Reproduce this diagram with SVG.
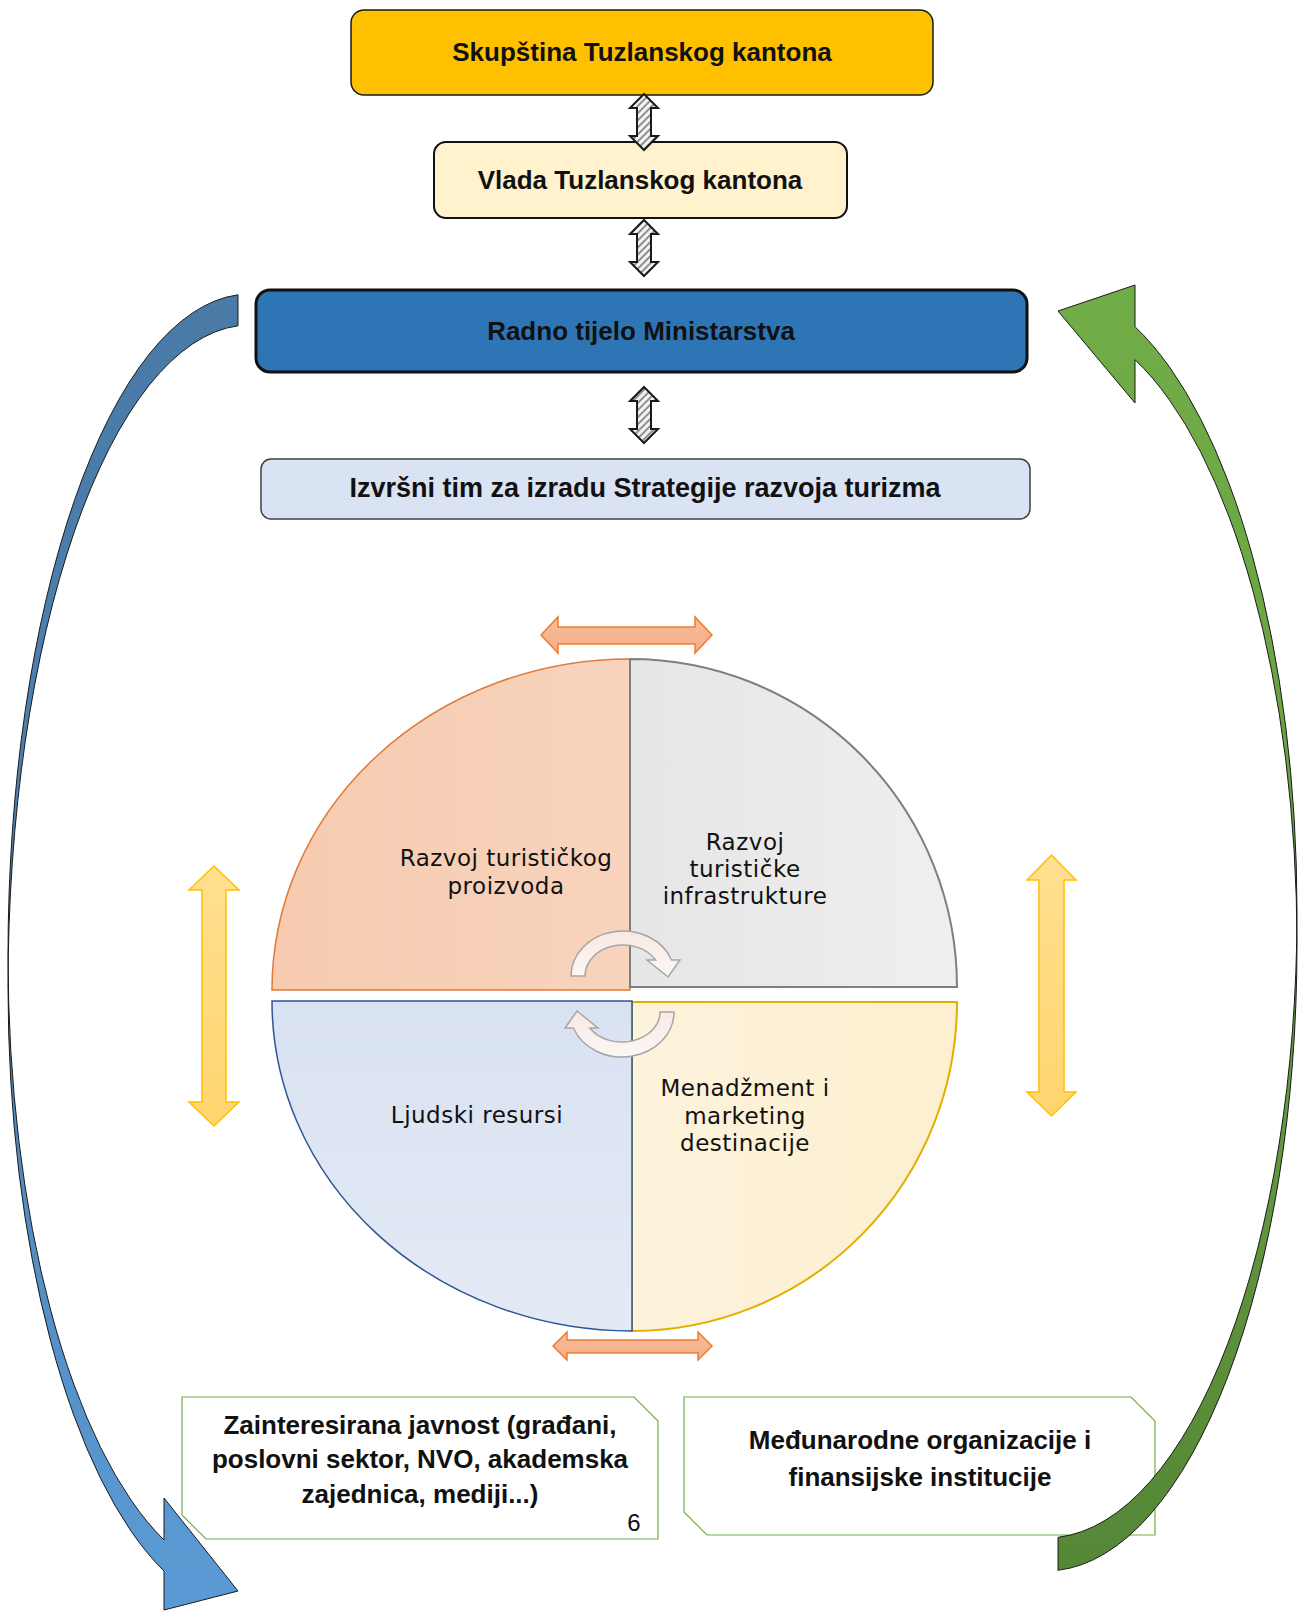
<svg xmlns="http://www.w3.org/2000/svg" width="1308" height="1611" viewBox="0 0 1308 1611">
<defs>
<style>
.bt{font-family:"Liberation Sans",Arial,sans-serif;font-weight:bold;font-size:26px;fill:#111;text-anchor:middle}
.ct{font-family:"DejaVu Sans",Verdana,sans-serif;font-size:23px;letter-spacing:0.5px;fill:#111;text-anchor:middle}
.hatch{fill:url(#hatch);stroke:#1a1a1a;stroke-width:2;stroke-linejoin:miter}
.oarr{fill:url(#gOrange);stroke:#ED7D31;stroke-width:1.5}
.yarr{fill:url(#gYellow);stroke:#FFC000;stroke-width:1.5}
.cyc{fill:url(#gCyc);stroke:#A6A6A6;stroke-width:1.5}
.snip{fill:#fff;stroke:#70AD47;stroke-width:1.2}
</style>
<pattern id="hatch" width="5" height="5" patternUnits="userSpaceOnUse" patternTransform="rotate(45)">
<rect width="5" height="5" fill="#f4f4f4"/>
<line x1="1" y1="0" x2="1" y2="5" stroke="#8f8f8f" stroke-width="2"/>
</pattern>
<linearGradient id="gBlue" x1="0" y1="0" x2="0" y2="1">
<stop offset="0" stop-color="#4A7AA6"/>
<stop offset="0.5" stop-color="#4D83B6"/>
<stop offset="1" stop-color="#5B9BD5"/>
</linearGradient>
<linearGradient id="gGreen" x1="0" y1="0" x2="0" y2="1">
<stop offset="0" stop-color="#70AD47"/>
<stop offset="0.5" stop-color="#67A040"/>
<stop offset="1" stop-color="#558737"/>
</linearGradient>
<linearGradient id="gOrange" x1="0" y1="0" x2="0" y2="1">
<stop offset="0" stop-color="#F7BC9A"/>
<stop offset="1" stop-color="#F4AD87"/>
</linearGradient>
<linearGradient id="gYellow" x1="0" y1="0" x2="0" y2="1">
<stop offset="0" stop-color="#FFE08F"/>
<stop offset="1" stop-color="#FFD570"/>
</linearGradient>
<linearGradient id="gCyc" x1="0" y1="0" x2="0" y2="1">
<stop offset="0" stop-color="#F8E8E3"/>
<stop offset="1" stop-color="#FDF7F5"/>
</linearGradient>
<linearGradient id="gTL" x1="0" y1="0" x2="1" y2="0">
<stop offset="0" stop-color="#F6CBB0"/>
<stop offset="1" stop-color="#F8D3BD"/>
</linearGradient>
<linearGradient id="gTR" x1="0" y1="0" x2="1" y2="0">
<stop offset="0" stop-color="#E6E6E6"/>
<stop offset="1" stop-color="#EFEFEF"/>
</linearGradient>
<linearGradient id="gBL" x1="0" y1="0" x2="0" y2="1">
<stop offset="0" stop-color="#D9E2F2"/>
<stop offset="1" stop-color="#E4EAF5"/>
</linearGradient>
<linearGradient id="gBR" x1="0" y1="0" x2="1" y2="0">
<stop offset="0" stop-color="#FCF3DC"/>
<stop offset="1" stop-color="#FDEFCF"/>
</linearGradient>
</defs>
<rect width="1308" height="1611" fill="#ffffff"/>

<g id="skupstina">
<rect x="351" y="10" width="582" height="85" rx="13" fill="#FFC000" stroke="#1a1a1a" stroke-width="1.5"/>
<text class="bt" x="642" y="61">Skupština Tuzlanskog kantona</text>
</g>
<g id="vlada">
<rect x="434" y="142" width="413" height="76" rx="12" fill="#FFF2CC" stroke="#111" stroke-width="2"/>
<text class="bt" x="640" y="189">Vlada Tuzlanskog kantona</text>
</g>
<g id="radno-tijelo">
<rect x="256" y="290" width="771" height="82" rx="14" fill="#2E75B6" stroke="#111" stroke-width="3"/>
<text class="bt" x="641" y="340">Radno tijelo Ministarstva</text>
</g>
<g id="izvrsni-tim">
<rect x="261" y="459" width="769" height="60" rx="10" fill="#DAE3F3" stroke="#404040" stroke-width="1.5"/>
<text class="bt" x="645" y="497" style="font-size:27px">Izvršni tim za izradu Strategije razvoja turizma</text>
</g>

<g id="razvoj-proizvoda">
<path d="M630,990 L272,990 A358,331 0 0 1 630,659 Z" fill="url(#gTL)" stroke="#E07A35" stroke-width="1.5"/>
<text class="ct" x="506" y="866">Razvoj turističkog</text>
<text class="ct" x="506" y="894">proizvoda</text>
</g>
<g id="razvoj-infrastrukture">
<path d="M630,659 A327,328 0 0 1 957,987 L630,987 Z" fill="url(#gTR)" stroke="#7F7F7F" stroke-width="2"/>
<text class="ct" x="745" y="850">Razvoj</text>
<text class="ct" x="745" y="877">turističke</text>
<text class="ct" x="745" y="904">infrastrukture</text>
</g>
<g id="menadzment">
<path d="M632,1002 L957,1002 A325,329 0 0 1 632,1331 Z" fill="url(#gBR)" stroke="#E2AE00" stroke-width="2"/>
<text class="ct" x="745" y="1096">Menadžment i</text>
<text class="ct" x="745" y="1124">marketing</text>
<text class="ct" x="745" y="1151">destinacije</text>
</g>
<g id="ljudski-resursi">
<path d="M632,1001 L272,1001 A360,330 0 0 0 632,1331 Z" fill="url(#gBL)" stroke="#2F5597" stroke-width="1.5"/>
<text class="ct" x="477" y="1123">Ljudski resursi</text>
</g>

<g id="zainteresirana-javnost">
<path class="snip" d="M182,1397 L634,1397 L658,1421 L658,1539 L206,1539 L182,1515 Z"/>
<text class="bt" x="420" y="1434">Zainteresirana javnost (građani,</text>
<text class="bt" x="420" y="1468">poslovni sektor, NVO, akademska</text>
<text class="bt" x="420" y="1503">zajednica, mediji...)</text>
<text x="634" y="1531" font-family="Liberation Sans, Arial, sans-serif" font-size="24" fill="#111" text-anchor="middle">6</text>
</g>
<g id="medjunarodne-organizacije">
<path class="snip" d="M684,1397 L1131,1397 L1155,1421 L1155,1535 L707,1535 L684,1512 Z"/>
<text class="bt" x="920" y="1449">Međunarodne organizacije i</text>
<text class="bt" x="920" y="1486">finansijske institucije</text>
</g>

<g id="connectors">
<path class="hatch" d="M644,94 L658,108 L651,108 L651,136 L658,136 L644,150 L630,136 L637,136 L637,108 L630,108 Z"/>
<path class="hatch" d="M644,220 L658,234 L651,234 L651,262 L658,262 L644,276 L630,262 L637,262 L637,234 L630,234 Z"/>
<path class="hatch" d="M644,387 L658,401 L651,401 L651,429 L658,429 L644,443 L630,429 L637,429 L637,401 L630,401 Z"/>

<path class="oarr" d="M541,635 L558,617 L558,627 L695,627 L695,617 L712,635 L695,653 L695,644 L558,644 L558,653 Z"/>
<path class="oarr" d="M553,1346 L567,1332 L567,1340 L698,1340 L698,1332 L712,1346 L698,1360 L698,1353 L567,1353 L567,1360 Z"/>

<path class="yarr" d="M214,866 L239,890 L226,890 L226,1102 L239,1102 L214,1126 L189,1102 L202,1102 L202,890 L189,890 Z"/>
<path class="yarr" d="M1051.5,855 L1076,880 L1064,880 L1064,1092 L1076,1092 L1051.5,1116 L1027,1092 L1039,1092 L1039,880 L1027,880 Z"/>

<path class="cyc" d="M571,976 A52,45 0 0 1 671.6,960 L680,960 L668,977 L647,960 L655.6,960 A38,31 0 0 0 585,976 Z"/>
<path class="cyc" d="M674,1012 A52,45 0 0 1 573.4,1028 L565,1028 L577,1011 L598,1028 L589.8,1028 A38,30 0 0 0 660,1012 Z"/>

<path fill="url(#gBlue)" stroke="#1a1a1a" stroke-width="1" d="M238,294.8 A242,662 0 0 0 8,956 A242,625 0 0 0 164,1540 L164,1498 L238,1591 L164,1610 L164,1571 A242,625 0 0 1 8,987 A242,662 0 0 1 238,325.8 Z"/>

<path fill="url(#gGreen)" stroke="#1a1a1a" stroke-width="1" d="M1058,1537.3 A251,626 0 0 0 1297,912 A251,626 0 0 0 1135,326.7 L1135,285 L1058,311 L1135,403 L1135,359.7 A251,626 0 0 1 1297,945 A251,626 0 0 1 1058,1570.3 Z"/>
</g>
</svg>
